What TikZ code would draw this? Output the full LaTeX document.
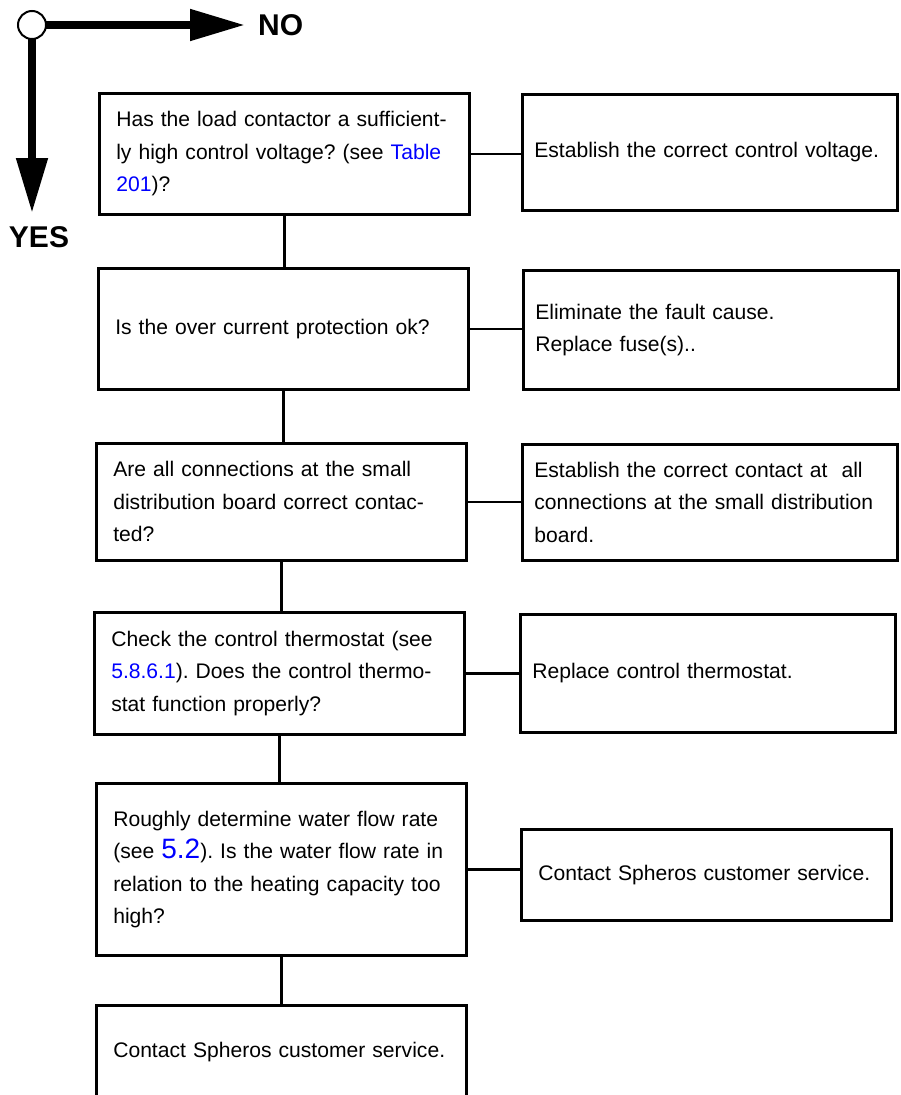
\documentclass[tikz,border=0pt]{standalone}
\usepackage{fontspec}
\setmainfont{Liberation Sans}
\usetikzlibrary{arrows.meta}
\definecolor{linkblue}{RGB}{0,0,255}
\newcommand{\lnk}[1]{\textcolor{linkblue}{#1}}
\frenchspacing

\begin{document}
\begin{tikzpicture}[x=1pt, y=-1pt,
  every node/.style={font=\fontsize{21.1}{32.5}\selectfont},
  lbox/.style={draw, line width=2.6pt, anchor=north west, minimum width=370pt,
    text width=336pt, inner xsep=17pt, align=left},
  rbox/.style={draw, line width=2.6pt, anchor=north west, minimum width=375pt,
    text width=351pt, inner xsep=12pt, align=left},
  link/.style={line width=2.6pt},
  flow/.style={line width=8pt, -{Triangle[length=55pt, width=30pt]}},
  answer/.style={font=\fontsize{30}{36}\selectfont\bfseries, inner sep=0pt}]
  \useasboundingbox (0,0) rectangle (901,1095);

  \coordinate (noend) at (245,25);
  \coordinate (yesend) at (32,213);
  \node[circle, minimum size=28pt, inner sep=0pt] (start) at (32,25) {};
  \draw[flow] (start.center) -- (noend);
  \draw[flow] (start.center) -- (yesend);
  \node[circle, draw, line width=2pt, fill=white, minimum size=28pt, inner sep=0pt] at (start) {};
  \node[answer, anchor=west] (no) at (258,25) {NO};
  \node[answer] (yes) at (39,237) {YES};

  \node[lbox, minimum height=121pt] (q1) at (98,92)
    {Has the load contactor a sufficient-\\ly high control voltage? (see \lnk{Table}\\\lnk{201})?};
  \node[lbox, minimum height=121pt] (q2) at (97,267)
    {Is the over current protection ok?};
  \node[lbox, minimum height=117pt] (q3) at (95,442)
    {Are all connections at the small\\distribution board correct contac-\\ted?};
  \node[lbox, minimum height=122pt] (q4) at (93,611)
    {Check the control thermostat (see\\\lnk{5.8.6.1}). Does the control thermo-\\stat function properly?};
  \node[lbox, minimum height=172pt] (q5) at (95,782)
    {Roughly determine water flow rate\\(see \lnk{\fontsize{28}{32.5}\selectfont 5.2}). Is the water flow rate in\\relation to the heating capacity too\\high?};
  \node[lbox, minimum height=94pt] (q6) at (95,1004)
    {Contact Spheros customer service.};

  \node[rbox, minimum height=116pt] (a1) at (521,93)
    {Establish the correct control voltage.};
  \node[rbox, minimum height=119pt] (a2) at (522,269)
    {Eliminate the fault cause.\\Replace fuse(s)..};
  \node[rbox, minimum height=116pt] (a3) at (521,443)
    {Establish the correct contact at~ all\\connections at the small distribution\\board.};
  \node[rbox, minimum height=118pt] (a4) at (519,613)
    {Replace control thermostat.};
  \node[rbox, minimum height=91pt, minimum width=370pt, text width=336pt, inner xsep=17pt] (a5) at (520,828)
    {Contact Spheros customer service.};

  \draw[link] (q1.south) -- (q1.south |- q2.north);
  \draw[link] (q2.south) -- (q2.south |- q3.north);
  \draw[link] (q3.south) -- (q3.south |- q4.north);
  \draw[link] (q4.south) -- (q4.south |- q5.north);
  \draw[link] (q5.south) -- (q5.south |- q6.north);

  \draw[link] (q1.east) -- (q1.east -| a1.west);
  \draw[link] (q2.east) -- (q2.east -| a2.west);
  \draw[link] (q3.east) -- (q3.east -| a3.west);
  \draw[link] (q4.east) -- (q4.east -| a4.west);
  \draw[link] (q5.east) -- (q5.east -| a5.west);
\end{tikzpicture}
\end{document}
